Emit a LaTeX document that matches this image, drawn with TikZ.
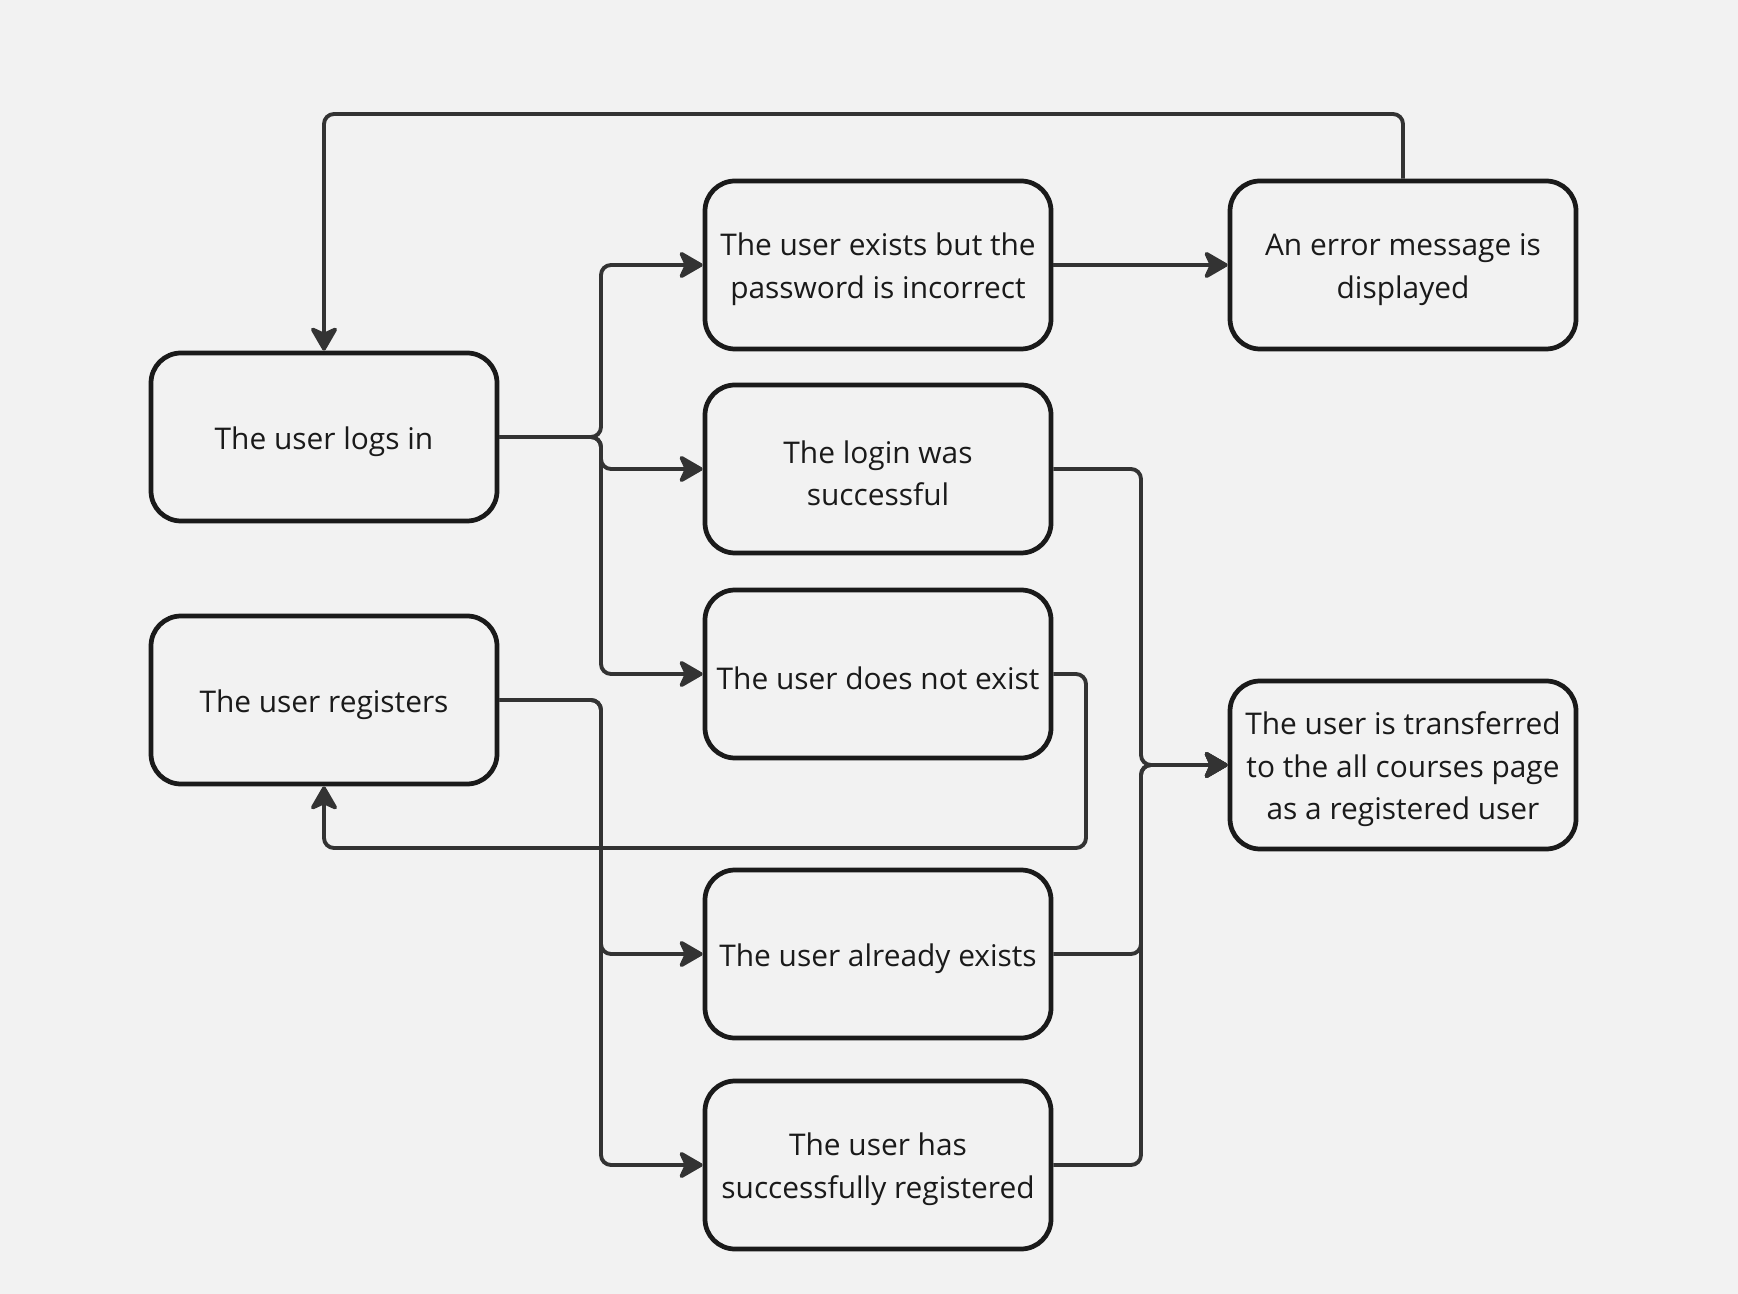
\documentclass[tikz,border=0pt]{standalone}
\usepackage{fontspec}
\setmainfont{Open Sans}
\usetikzlibrary{arrows.meta}
\definecolor{canvas}{HTML}{F2F2F2}
\definecolor{boxline}{HTML}{1A1A1A}
\definecolor{wire}{HTML}{333333}

\begin{document}
\begin{tikzpicture}[
		state/.style={draw=boxline, line width=1.35pt, rounded corners=0.3cm,
			minimum width=3.46cm, minimum height=1.68cm, align=center,
			text=boxline, font=\fontsize{8.5}{12.1}\selectfont, inner sep=0pt,
			execute at begin node={\rule{0pt}{\dimexpr 9pt+12.1pt*(#1-1)\relax}}},
		state/.default=1,
		flow/.style={draw=wire, line width=1.1pt, rounded corners=0.1cm,
			-{Stealth[length=2.7mm, width=3.1mm, inset=0.7mm, round]}}
	]
		\fill[canvas] (0,0) rectangle (17.38,-12.94);
		\useasboundingbox (0,0) rectangle (17.38,-12.94);
		
		% left column
		\node[state] (login) at (3.24,-4.37) {The user logs in};
		\node[state] (register) at (3.24,-7.00) {The user registers};
		
		% middle column
		\node[state=2] (wrongpw) at (8.78,-2.65) {The user exists but the\\password is incorrect};
		\node[state=2] (loginok) at (8.78,-4.69) {The login was\\successful};
		\node[state] (nouser) at (8.78,-6.74) {The user does not exist};
		\node[state] (taken) at (8.78,-9.54) {The user already exists};
		\node[state=2] (regok) at (8.78,-11.65) {The user has\\successfully registered};
		
		% right column
		\node[state=2] (errmsg) at (14.03,-2.65) {An error message is\\displayed};
		\node[state=3] (courses) at (14.03,-7.65) {The user is transferred\\to the all courses page\\as a registered user};
		
		% login branches
		\draw[flow] (login.east) -- (6.01,-4.37) |- (wrongpw.west);
		\draw[flow] (login.east) -- (6.01,-4.37) |- (loginok.west);
		\draw[flow] (login.east) -- (6.01,-4.37) |- (nouser.west);
		\draw[flow] (wrongpw.east) -- (errmsg.west);
		\draw[flow] (errmsg.north) |- (5,-1.14) -| (login.north);
		
		% register branches
		\draw[flow] (register.east) -- (6.01,-7.00) |- (taken.west);
		\draw[flow] (register.east) -- (6.01,-7.00) |- (regok.west);
		\draw[flow] (nouser.east) -- (10.86,-6.74) |- (5,-8.48) -| (register.south);
		
		% into the courses page
		\draw[flow] (loginok.east) -- (11.41,-4.69) |- (courses.west);
		\draw[flow] (taken.east) -- (11.41,-9.54) |- (courses.west);
		\draw[flow] (regok.east) -- (11.41,-11.65) |- (courses.west);
	\end{tikzpicture}
\end{document}
